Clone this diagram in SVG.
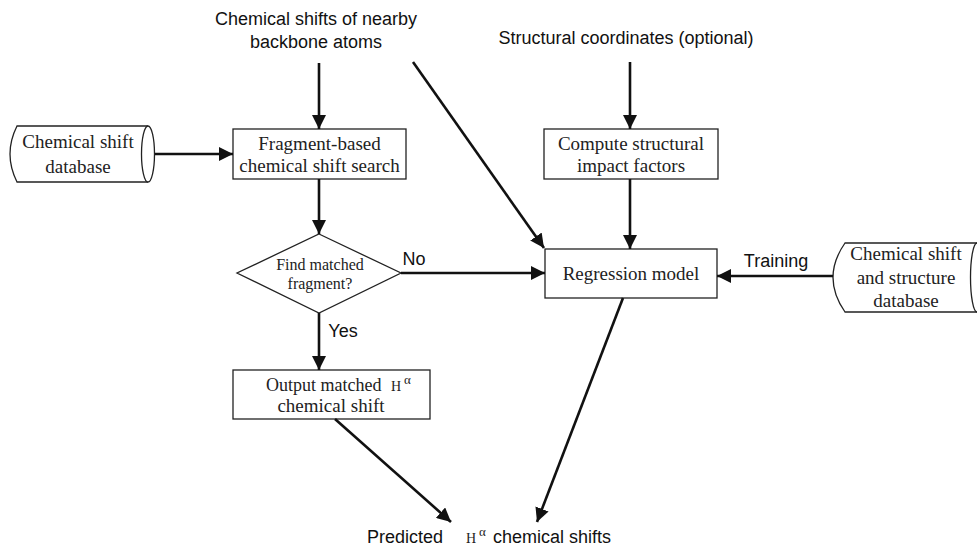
<svg xmlns="http://www.w3.org/2000/svg" width="977" height="549" viewBox="0 0 977 549">
<style>
.box{fill:#fff;stroke:#222;stroke-width:1.3}
.ser{font-family:"Liberation Serif","Times New Roman",serif;fill:#222;font-size:19px;text-anchor:middle}
.san{font-family:"Liberation Sans",Arial,sans-serif;fill:#111;font-size:18px;text-anchor:middle}
.st{text-anchor:start}
.edge{stroke:#111;stroke-width:2.6;fill:none;marker-end:url(#ah)}
</style>
<defs>
<marker id="ah" markerUnits="userSpaceOnUse" markerWidth="14" markerHeight="14" viewBox="0 0 14 14" refX="14" refY="7" orient="auto">
<path d="M0,0 L14,7 L0,14 Z" fill="#111"/>
</marker>
</defs>
<rect width="977" height="549" fill="#fff"/>
<g id="input-shifts">
<text class="san" x="316" y="25">Chemical shifts of nearby</text>
<text class="san" x="316" y="48">backbone atoms</text>
</g>
<g id="input-coords">
<text class="san" x="626" y="44">Structural coordinates (optional)</text>
</g>
<g id="db-left">
<path class="box" d="M17,126 H148 A6.5,28 0 0 1 148,182 H17 Q3,154 17,126 Z"/>
<path class="box" d="M148,126 A6.5,28 0 0 0 148,182"/>
<text class="ser" x="78" y="148">Chemical shift</text>
<text class="ser" x="78" y="173">database</text>
</g>
<g id="fragment-search">
<rect class="box" x="233" y="129" width="173" height="50"/>
<text class="ser" x="319.5" y="150">Fragment-based</text>
<text class="ser" x="319.5" y="172">chemical shift search</text>
</g>
<g id="compute-factors">
<rect class="box" x="544" y="129" width="174" height="50"/>
<text class="ser" x="631" y="150">Compute structural</text>
<text class="ser" x="631" y="172">impact factors</text>
</g>
<g id="decision">
<path class="box" d="M319,234 L401,273 L319,313 L237,273 Z"/>
<text class="ser" x="320" y="270" style="font-size:16px">Find matched</text>
<text class="ser" x="320" y="289" style="font-size:16px">fragment?</text>
</g>
<g id="regression">
<rect class="box" x="545" y="249" width="172" height="49"/>
<text class="ser" x="631" y="280">Regression model</text>
</g>
<g id="db-right">
<path class="box" d="M845,243 H977 A6.5,34.5 0 0 1 977,312 H845 Q821,277.5 845,243 Z"/>
<path class="box" d="M977,243 A6.5,34.5 0 0 0 977,312"/>
<text class="ser" x="906" y="260">Chemical shift</text>
<text class="ser" x="906" y="284">and structure</text>
<text class="ser" x="906" y="307">database</text>
</g>
<g id="output-matched">
<rect class="box" x="233" y="370" width="197" height="49"/>
<text class="ser st" x="266" y="391" style="font-size:18px">Output matched</text>
<text class="ser st" x="391" y="391" style="font-size:14px">H</text>
<text class="ser st" x="404" y="384" style="font-size:13px">α</text>
<text class="ser" x="331" y="412">chemical shift</text>
</g>
<g id="predicted">
<text class="san st" x="367" y="543">Predicted</text>
<text class="ser st" x="466" y="543" style="font-size:14px">H</text>
<text class="ser st" x="479" y="536" style="font-size:13px">α</text>
<text class="san st" x="493" y="543">chemical shifts</text>
</g>
<g id="connectors">
<line class="edge" x1="319" y1="63" x2="319" y2="129"/>
<line class="edge" x1="630" y1="62" x2="630" y2="129"/>
<line class="edge" x1="155" y1="154" x2="233" y2="154"/>
<line class="edge" x1="319" y1="179" x2="319" y2="234"/>
<line class="edge" x1="413" y1="62" x2="544" y2="248"/>
<line class="edge" x1="630" y1="179" x2="630" y2="249"/>
<line class="edge" x1="401" y1="273" x2="545" y2="273"/>
<line class="edge" x1="833" y1="276" x2="717" y2="276"/>
<line class="edge" x1="319" y1="313" x2="319" y2="370"/>
<line class="edge" x1="335" y1="419" x2="451" y2="522"/>
<line class="edge" x1="623" y1="298" x2="537" y2="522"/>
<text class="san" x="414" y="265">No</text>
<text class="san" x="343" y="337">Yes</text>
<text class="san" x="776" y="267">Training</text>
</g>
</svg>
